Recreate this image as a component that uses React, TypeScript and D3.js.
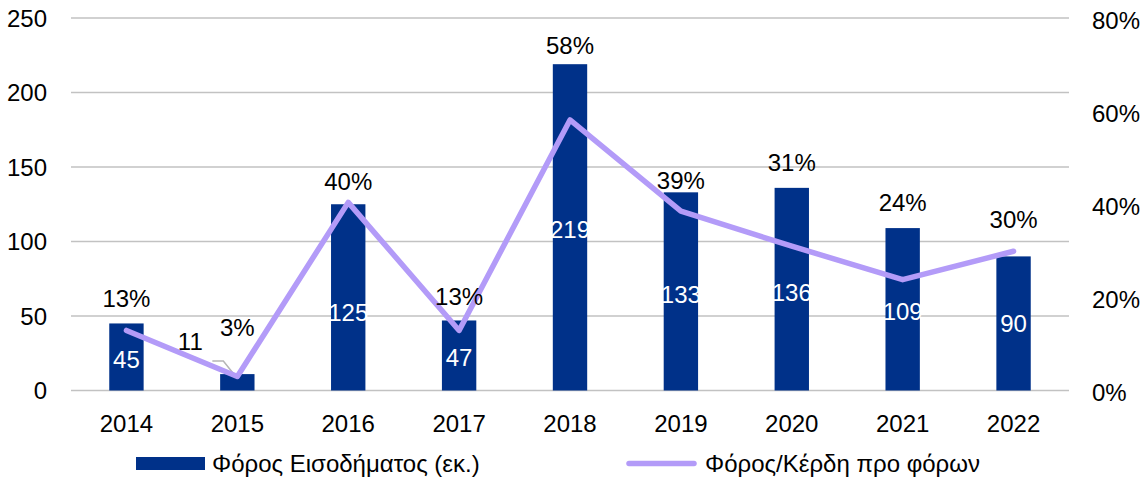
import React from 'react';
import * as d3 from 'd3';

// data
const years = ['2014', '2015', '2016', '2017', '2018', '2019', '2020', '2021', '2022'];
const incomeTax = [45, 11, 125, 47, 219, 133, 136, 109, 90];
const taxToProfit = [0.129, 0.03, 0.404, 0.129, 0.581, 0.385, 0.31, 0.238, 0.299];
const taxToProfitLabels = ['13%', '3%', '40%', '13%', '58%', '39%', '31%', '24%', '30%'];
const leftTicks = [0, 50, 100, 150, 200, 250];
const rightTicks = [0, 0.2, 0.4, 0.6, 0.8];

const barSeriesName = 'Φόρος Εισοδήματος (εκ.)';
const lineSeriesName = 'Φόρος/Κέρδη προ φόρων';

// manual label placement (px), like the hand-moved labels in the original
const pctLift = [25, 47, 23, 24, 19, 12, 26, 26, 37];
const barLabelNudge = [2, 0, 15, 2, 2, 3, 3, 2, 0];

const W = 1146;
const H = 494;
const BAR = '#003189';
const LINE = '#b39bf8';
const GRID = '#c2c2c2';
const FONT = '"Liberation Sans", Arial, Helvetica, sans-serif';
const FS = 24;

const App = () => {
  const x = d3.scaleBand<string>()
    .domain(years)
    .range([71, 1069])
    .paddingInner(0.69)
    .paddingOuter(0.345);
  const yL = d3.scaleLinear().domain([0, 250]).range([390.5, 18]);
  const yR = d3.scaleLinear().domain([0, 0.8]).range([390.5, 18]);
  const cx = (d: string) => (x(d) ?? 0) + x.bandwidth() / 2;

  const line = d3.line<number>()
    .x((_, i) => cx(years[i]))
    .y(d => yR(d));

  // the 2015 bar is too short for its label, so it sits outside with a leader line
  const small = years[1];
  const smallTop = yL(incomeTax[1]);
  const leader = [
    [cx(small) - 25, smallTop - 13],
    [cx(small) - 14, smallTop - 13],
    [cx(small), yR(taxToProfit[1]) + 2],
  ];

  return (
    <div style={{ position: 'absolute', left: 0, top: 0 }}>
      <svg width={W} height={H} style={{ display: 'block', background: '#fff' }} fontFamily={FONT}>
        {/* gridlines */}
        {leftTicks.map(t => (
          <line key={t} x1={71} x2={1069} y1={yL(t)} y2={yL(t)} stroke={GRID} strokeWidth={1.5} />
        ))}
        {/* left axis */}
        {leftTicks.map(t => (
          <text key={t} x={47} y={yL(t)} dy="0.36em" textAnchor="end" fontSize={FS}>{t}</text>
        ))}
        {/* right axis */}
        {rightTicks.map(t => (
          <text key={t} x={1092} y={yR(t) + 2} dy="0.36em" textAnchor="start" fontSize={FS}>
            {d3.format('.0%')(t)}
          </text>
        ))}
        {/* bars */}
        {incomeTax.map((v, i) => (
          <rect key={years[i]} x={x(years[i])} y={yL(v)} width={x.bandwidth()}
            height={yL(0) - yL(v)} fill={BAR} />
        ))}
        <polyline points={leader.map(p => p.join(',')).join(' ')}
          fill="none" stroke="#b5b5b5" strokeWidth={1.5} />
        {/* bar value labels */}
        {incomeTax.map((v, i) => {
          if (i === 1) {
            return (
              <text key={years[i]} x={cx(years[i]) - 47} y={yL(v) - 33} dy="0.36em"
                textAnchor="middle" fontSize={FS} fill="#000">{v}</text>
            );
          }
          return (
            <text key={years[i]} x={cx(years[i])} y={(yL(v) + yL(0)) / 2 + barLabelNudge[i]} dy="0.36em"
              textAnchor="middle" fontSize={FS} fill="#fff">{v}</text>
          );
        })}
        {/* ratio line */}
        <path d={line(taxToProfit) ?? ''} fill="none" stroke={LINE} strokeWidth={5.5}
          strokeLinejoin="round" strokeLinecap="round" />
        {/* ratio labels */}
        {taxToProfitLabels.map((s, i) => (
          <text key={years[i]} x={cx(years[i])} y={yL(incomeTax[i]) - pctLift[i]} dy="0.36em"
            textAnchor="middle" fontSize={FS}>{s}</text>
        ))}
        {/* x axis labels */}
        {years.map(y => (
          <text key={y} x={cx(y)} y={423} dy="0.36em" textAnchor="middle" fontSize={FS}>{y}</text>
        ))}
        {/* legend */}
        <rect x={136} y={457} width={69} height={13} fill={BAR} />
        <text x={212} y={463.5} dy="0.36em" fontSize={FS}>{barSeriesName}</text>
        <line x1={629} x2={694} y1={463.5} y2={463.5} stroke={LINE} strokeWidth={5.5} strokeLinecap="round" />
        <text x={705} y={463.5} dy="0.36em" fontSize={FS}>{lineSeriesName}</text>
      </svg>
    </div>
  );
};

export default App;
